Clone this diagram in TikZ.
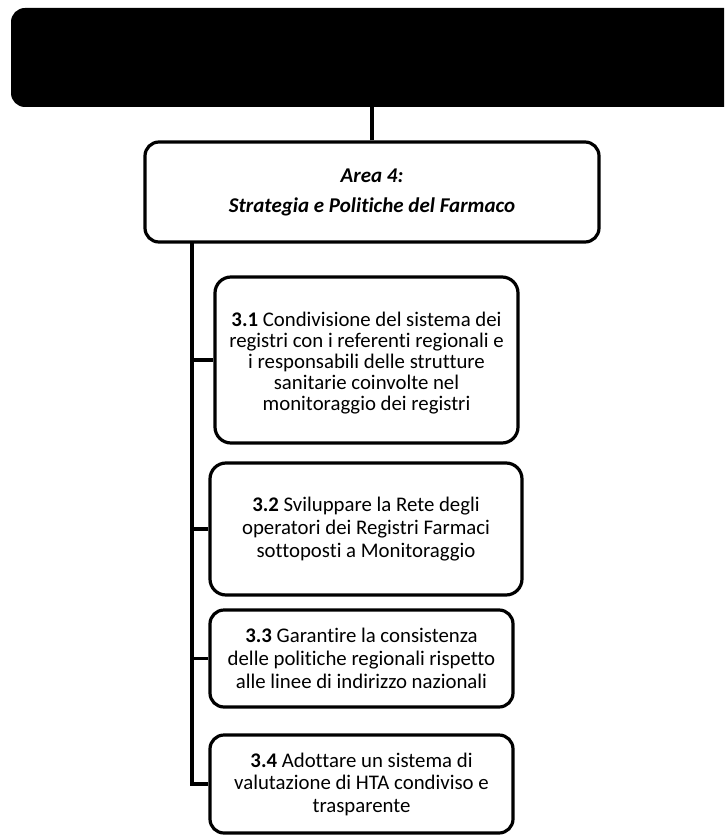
\documentclass[tikz,border=0pt]{standalone}
\usepackage{fontspec}
\setmainfont{Carlito}[Ligatures=NoCommon]
\begin{document}
\begin{tikzpicture}[x=1pt,y=-1pt,
  conn/.style={line width=3.2pt},
  goalbox/.style={draw, line width=3.2pt, rounded corners=16pt, inner sep=0pt},
  goaltext/.style={align=center, inner sep=0pt, font=\fontsize{20.8}{21}\selectfont},
  areabox/.style={draw, line width=3.2pt, rounded corners=14pt, align=center,
    font=\fontsize{21}{30}\selectfont\bfseries\itshape, inner sep=0pt}]
\useasboundingbox[fill=white] (0,0) rectangle (724,837);
\begin{scope}
\clip (0,0) rectangle (724,837);
\node[fill=black, rounded corners=14pt, minimum width=729pt, minimum height=99pt, inner sep=0pt] (top) at (375.5,57.5) {};
\end{scope}
\node[areabox, minimum width=454pt, minimum height=100pt] (area) at (372,192)
  {Area 4:\\Strategia e Politiche del Farmaco};
\node[goalbox, minimum width=303pt, minimum height=166pt] (b1) at (366.5,360) {};
\node[goaltext] (t1) at ([yshift=-3pt]b1.center)
  {\textbf{3.1} Condivisione del sistema dei\\registri con i referenti regionali e\\i responsabili delle strutture\\sanitarie coinvolte nel\\monitoraggio dei registri};
\node[goalbox, minimum width=312pt, minimum height=132pt] (b2) at (366,529) {};
\node[goaltext, font=\fontsize{20.8}{23}\selectfont] (t2) at (b2.center)
  {\textbf{3.2} Sviluppare la Rete degli\\operatori dei Registri Farmaci\\sottoposti a Monitoraggio};
\node[goalbox, rounded corners=14pt, minimum width=303pt, minimum height=97pt] (b3) at (361.5,658.5) {};
\node[goaltext, font=\fontsize{20.8}{23}\selectfont] (t3) at (b3.center)
  {\textbf{3.3} Garantire la consistenza\\delle politiche regionali rispetto\\alle linee di indirizzo nazionali};
\node[goalbox, rounded corners=14pt, minimum width=303pt, minimum height=98pt] (b4) at (361.5,784) {};
\node[goaltext, font=\fontsize{20.8}{22.5}\selectfont] (t4) at (b4.center)
  {\textbf{3.4} Adottare un sistema di\\valutazione di HTA condiviso e\\trasparente};
\draw[conn] (area.north) -- (area.north |- top.south);
\coordinate (trunk) at (192,242);
\draw[conn] (trunk) -- (trunk |- b4.west) -- (b4.west);
\draw[conn] (trunk |- b1.west) -- (b1.west);
\draw[conn] (trunk |- b2.west) -- (b2.west);
\draw[conn] (trunk |- b3.west) -- (b3.west);
\end{tikzpicture}
\end{document}
